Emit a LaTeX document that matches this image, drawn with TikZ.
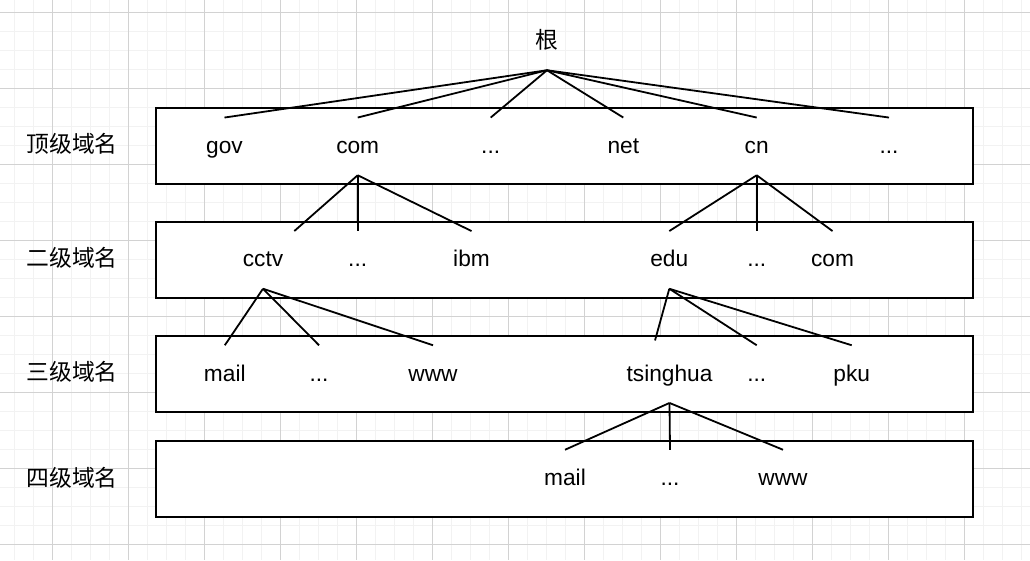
\documentclass[tikz,border=0pt]{standalone}
\usepackage{fontspec}
\setmainfont{Liberation Sans}
\newfontfamily\cjk{Noto Sans CJK SC}
\usetikzlibrary{calc}
\begin{document}
\begin{tikzpicture}[x=1pt,y=-1pt,
  minorgrid/.style={draw=gray!10, line width=0.8pt},
  majorgrid/.style={draw=gray!35, line width=0.8pt},
  levelbox/.style={draw=black, fill=white, line width=1.8pt, inner sep=0pt, minimum width=817pt, minimum height=76pt},
  dom/.style={inner sep=0pt, minimum height=57.3pt, text height=16pt, text depth=2pt, font=\fontsize{22.7}{26}\selectfont},
  lvl/.style={inner sep=0pt, font=\cjk\fontsize{22.8}{26}\selectfont},
  edge/.style={draw=black, line width=1.8pt}]
\useasboundingbox (0,0) rectangle (1030,560);
\fill[white] (0,0) rectangle (1030,560);
% grid
\foreach \k in {0,...,53} \draw[minorgrid] ({14.3+19*\k},0) -- ({14.3+19*\k},560);
\foreach \k in {0,...,28} \draw[minorgrid] (0,{12.7+19*\k}) -- (1030,{12.7+19*\k});
\foreach \k in {0,...,12} \draw[majorgrid] ({52.3+76*\k},0) -- ({52.3+76*\k},560);
\foreach \k in {0,...,7} \draw[majorgrid] (0,{12.7+76*\k}) -- (1030,{12.7+76*\k});
% level boxes
\node[levelbox] (box1) at (564.5,146) {};
\node[levelbox] (box2) at (564.5,260) {};
\node[levelbox] (box3) at (564.5,374) {};
\node[levelbox] (box4) at (564.5,478.8) {};
% level labels
\node[lvl] (lab1) at (72,144) {顶级域名};
\node[lvl] (lab2) at (72,258) {二级域名};
\node[lvl] (lab3) at (72,372) {三级域名};
\node[lvl] (lab4) at (72,478) {四级域名};
% root
\node[dom, font=\cjk\fontsize{22.8}{26}\selectfont] (root) at (547,41.4) {根};
% level 1
\node[dom] (gov) at (224.5,146.4) {gov};
\node[dom] (com) at (357.7,146.4) {com};
\node[dom] (dotsA) at (490.7,146.4) {...};
\node[dom] (net) at (623.3,146.4) {net};
\node[dom] (cn) at (756.7,146.4) {cn};
\node[dom] (dotsB) at (889,146.4) {...};
% level 2
\node[dom] (cctv) at (263,259.9) {cctv};
\node[dom] (dotsC) at (357.7,259.9) {...};
\node[dom] (ibm) at (471.5,259.9) {ibm};
\node[dom] (edu) at (669.3,259.9) {edu};
\node[dom] (dotsD) at (756.7,259.9) {...};
\node[dom] (comB) at (832.5,259.9) {com};
% level 3
\node[dom] (mail) at (224.8,374.1) {mail};
\node[dom] (dotsE) at (319,374.1) {...};
\node[dom] (www) at (433,374.1) {www};
\node[dom] (tsinghua) at (669.5,374.1) {tsinghua};
\node[dom] (dotsF) at (756.7,374.1) {...};
\node[dom] (pku) at (851.7,374.1) {pku};
% level 4
\node[dom] (mailB) at (565,478.6) {mail};
\node[dom] (dotsG) at (670,478.6) {...};
\node[dom] (wwwB) at (783,478.6) {www};
% edges
\foreach \c in {gov,com,dotsA,net,cn,dotsB} \draw[edge] (root.south) -- (\c.north);
\draw[edge] (com.south) -- ($(cctv.north)+(31.3,0)$);
\foreach \c in {dotsC,ibm} \draw[edge] (com.south) -- (\c.north);
\foreach \c in {edu,dotsD,comB} \draw[edge] (cn.south) -- (\c.north);
\foreach \c in {mail,dotsE,www} \draw[edge] (cctv.south) -- (\c.north);
\draw[edge] (edu.south) -- ($(tsinghua.north)+(-14.5,-4.8)$);
\foreach \c in {dotsF,pku} \draw[edge] (edu.south) -- (\c.north);
\foreach \c in {mailB,dotsG,wwwB} \draw[edge] (tsinghua.south) -- (\c.north);
\end{tikzpicture}
\end{document}
